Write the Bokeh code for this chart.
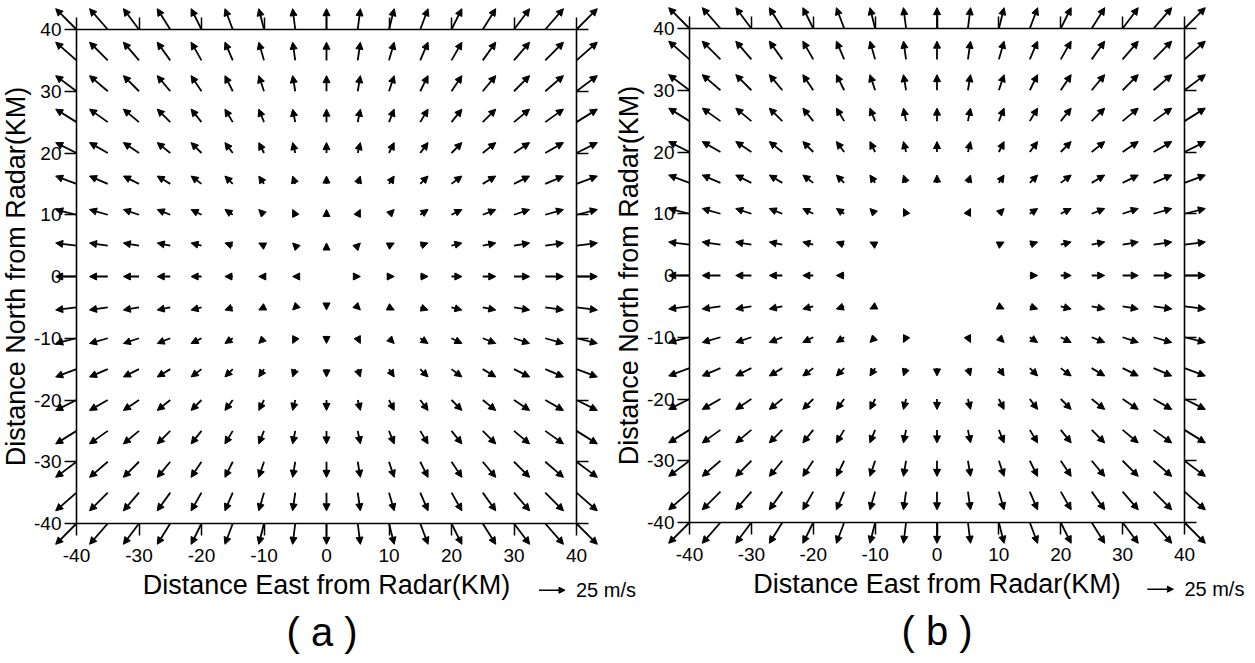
from bokeh.plotting import figure
from bokeh.models import (ColumnDataSource, Arrow, NormalHead, Label, LinearAxis,
                          FixedTicker, Range1d)
from bokeh.embed import file_html
from bokeh.resources import INLINE

# Analysis grid (km from radar)
east_km = [-40, -35, -30, -25, -20, -15, -10, -5, 0, 5, 10, 15, 20, 25, 30, 35, 40]
north_km = [-40, -35, -30, -25, -20, -15, -10, -5, 0, 5, 10, 15, 20, 25, 30, 35, 40]

# Wind components (m/s): eastward part for each column, northward part for each row
u_east = [-20.0, -17.5, -15.0, -12.5, -10.0, -7.5, -5.0, -2.5, 0.0,
          2.5, 5.0, 7.5, 10.0, 12.5, 15.0, 17.5, 20.0]
v_north = [-20.0, -17.5, -15.0, -12.5, -10.0, -7.5, -5.0, -2.5, 0.0,
           2.5, 5.0, 7.5, 10.0, 12.5, 15.0, 17.5, 20.0]

# Grid points with no retrieved wind in (b)
blank_b_east = [0, -5, 0, 5, -10, -5, 0, 5, 10, -5, 0, 5, 0]
blank_b_north = [10, 5, 5, 5, 0, 0, 0, 0, 0, -5, -5, -5, -10]

tick_values = [-40, -30, -20, -10, 0, 10, 20, 30, 40]
ref_speed = 25.0  # m/s, reference vector

FONT = "Liberation Sans"
W, H = 1255, 663
PX_PER_MS = 1.04      # vector length in pixels per m/s

# pixel placement of each panel's -40..40 box: (left, right, top, bottom)
BOX_A = (76, 576, 29, 523)
BOX_B = (689, 1184, 28, 522)


def ranges_for(box):
    left, right, top, bottom = box
    sx = (right - left) / 80.0
    sy = (bottom - top) / 80.0
    x0 = -40 - left / sx
    y1 = 40 + top / sy
    return Range1d(x0, x0 + W / sx), Range1d(y1 - H / sy, y1), sx, sy


xr_a, yr_a, sx_a, sy_a = ranges_for(BOX_A)
xr_b, yr_b, sx_b, sy_b = ranges_for(BOX_B)

p = figure(width=W, height=H, min_border=0, x_range=xr_a, y_range=yr_a,
           x_axis_type=None, y_axis_type=None,
           output_backend="svg", toolbar_location=None, tools="")
p.extra_x_ranges = {"b": xr_b}
p.extra_y_ranges = {"b": yr_b}
p.grid.visible = False
p.outline_line_color = None
p.background_fill_color = "white"
p.border_fill_color = "white"

label_overrides = {t: str(t) for t in tick_values}


def add_axis(side, loc, rn, title=None):
    ax = LinearAxis(fixed_location=loc, bounds=(-40, 40),
                    ticker=FixedTicker(ticks=tick_values, minor_ticks=[]),
                    major_label_overrides=label_overrides)
    if rn != "default":
        ax.x_range_name = rn
        ax.y_range_name = rn
    ax.major_tick_out = 12
    ax.major_tick_in = 0
    ax.minor_tick_out = 0
    ax.minor_tick_in = 0
    ax.major_tick_line_color = "black"
    ax.major_tick_line_width = 1.5
    ax.axis_line_color = "black"
    ax.axis_line_width = 1.6
    ax.major_label_text_font = FONT
    ax.major_label_text_font_size = "19px"
    ax.major_label_text_color = "black"
    if side in ("above", "right"):
        ax.major_label_text_color = None
    elif side == "below":
        ax.major_label_standoff = 13
    else:
        ax.major_label_standoff = 3
    if title:
        ax.axis_label = title
        ax.axis_label_text_font = FONT
        ax.axis_label_text_font_style = "normal"
        ax.axis_label_text_font_size = "27px"
        ax.axis_label_text_color = "black"
        ax.axis_label_standoff = 5 if side == "below" else 0
    p.add_layout(ax, side)


def draw_panel(rn, blank_e, blank_n, sx, sy, tag, tag_x):
    add_axis("below", -40, rn, "Distance East from Radar(KM)")
    add_axis("left", -40, rn, "Distance North from Radar(KM)")
    add_axis("above", 40, rn)
    add_axis("right", 40, rn)

    # km per m/s along each axis
    kx = PX_PER_MS / sx
    ky = PX_PER_MS / sy

    blanks = set(zip(blank_e, blank_n))
    x0, y0, x1, y1 = [], [], [], []
    for j, yn in enumerate(north_km):
        for i, xe in enumerate(east_km):
            u, v = u_east[i], v_north[j]
            if (xe, yn) in blanks or (u == 0 and v == 0):
                continue
            x0.append(xe)
            y0.append(yn)
            x1.append(xe + u * kx)
            y1.append(yn + v * ky)
    src = ColumnDataSource(dict(x0=x0, y0=y0, x1=x1, y1=y1))
    kw = {} if rn == "default" else dict(x_range_name=rn, y_range_name=rn)
    head = NormalHead(size=7, fill_color="black", line_color="black", line_width=1)
    p.add_layout(Arrow(end=head, source=src, x_start="x0", y_start="y0",
                       x_end="x1", y_end="y1", line_color="black", line_width=1.8, **kw))

    # reference vector under the panel
    rx, ry = 34.0, -50.8
    head_r = NormalHead(size=6, fill_color="black", line_color="black", line_width=1)
    p.add_layout(Arrow(end=head_r, x_start=rx, y_start=ry, x_end=rx + ref_speed * kx, y_end=ry,
                       line_color="black", line_width=1.6, **kw))
    p.add_layout(Label(x=rx + ref_speed * kx + 11 / sx, y=ry, text="25 m/s",
                       text_baseline="middle", text_align="left", text_font=FONT,
                       text_font_size="20px", text_color="black", **kw))

    # panel tag
    p.add_layout(Label(x=tag_x, y=-57.6, text=tag, text_baseline="middle", text_align="center",
                       text_font=FONT, text_font_size="40px", text_color="black", **kw))


draw_panel("default", [], [], sx_a, sy_a, "( a )", -0.7)
draw_panel("b", blank_b_east, blank_b_north, sx_b, sy_b, "( b )", 0.0)

open("out.html", "w").write(file_html(p, INLINE))
